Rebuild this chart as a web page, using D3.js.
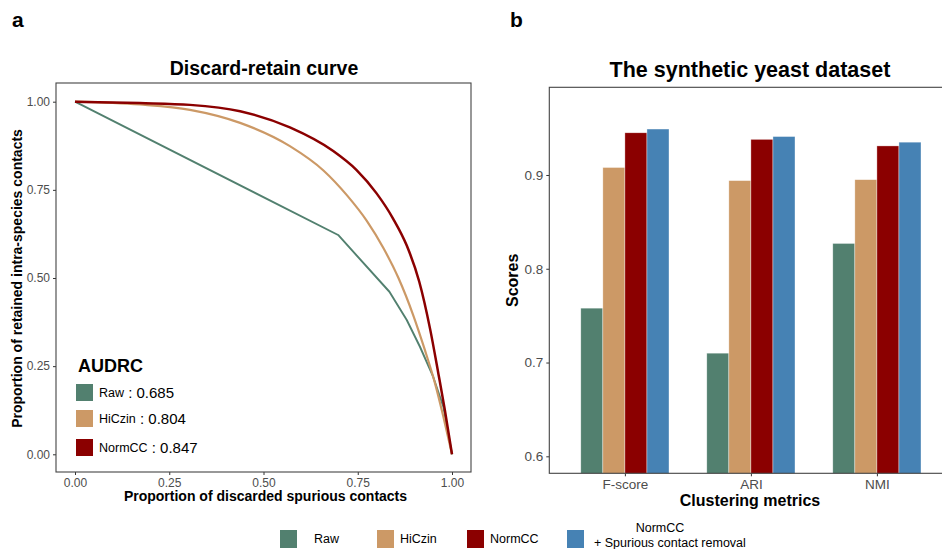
<!DOCTYPE html>
<html>
<head>
<meta charset="utf-8">
<script src="https://cdn.jsdelivr.net/npm/d3@7"></script>
<style>
  body { margin: 0; background: #fff; }
  svg { font-family: "Liberation Sans", Arial, sans-serif; }
</style>
</head>
<body>
<div class="content"></div>
<script>
var size = {width: 942, height: 549};

// discard-retain curves (x: proportion discarded, y: proportion retained)
var rawCurve = [[0,1],[0.698,0.622],[0.834,0.461],[0.88,0.381],[0.915,0.305],[0.95,0.22],[0.977,0.135],[1,0]];
var hiczinCurve = [[0,1],[0.172,0.992],[0.305,0.977],[0.438,0.94],[0.57,0.874],[0.659,0.805],[0.721,0.735],[0.774,0.662],[0.818,0.585],[0.858,0.5],[0.897,0.395],[0.928,0.296],[0.955,0.201],[0.977,0.107],[1,0]];
var normccCurve = [[0,1],[0.172,0.996],[0.305,0.991],[0.438,0.973],[0.57,0.927],[0.685,0.86],[0.747,0.806],[0.8,0.74],[0.844,0.668],[0.88,0.592],[0.913,0.49],[0.942,0.355],[0.964,0.228],[0.981,0.126],[1,0]];
var audrc = [["Raw", "0.685"], ["HiCzin", "0.804"], ["NormCC", "0.847"]];
var curveTicks = [0, 0.25, 0.5, 0.75, 1];

// bar chart
var metrics = ["F-score", "ARI", "NMI"];
var methods = ["Raw", "HiCzin", "NormCC", "NormCC+SCR"];
var fscore = [0.758, 0.908, 0.945, 0.949];
var ari = [0.710, 0.894, 0.938, 0.941];
var nmi = [0.827, 0.895, 0.931, 0.935];
var scoreTicks = [0.6, 0.7, 0.8, 0.9];

var colors = {"Raw": "#52806f", "HiCzin": "#cc9966", "NormCC": "#8b0000", "NormCC+SCR": "#4682b4"};

var chart = d3.select('.content')
    .append('svg')
    .attr('width', size.width)
    .attr('height', size.height);

// panel letters
chart.append('text').attr('x', 12).attr('y', 27).attr('font-size', 21).attr('font-weight', 'bold').text('a');
chart.append('text').attr('x', 510).attr('y', 27).attr('font-size', 21).attr('font-weight', 'bold').text('b');

// ---------- panel a ----------
var boxA = {left: 56, right: 471, top: 83, bottom: 472};
var xA = d3.scaleLinear().domain([0, 1]).range([75, 452]);
var yA = d3.scaleLinear().domain([0, 1]).range([454.3, 101.7]);

chart.append('text')
    .attr('x', (boxA.left + boxA.right) / 2 + 0.5).attr('y', 75)
    .attr('text-anchor', 'middle').attr('font-size', 19.5).attr('font-weight', 'bold')
    .text('Discard-retain curve');

var axA = chart.append('g').attr('transform', 'translate(0,' + boxA.bottom + ')')
    .call(d3.axisBottom(xA).tickValues(curveTicks).tickFormat(d3.format('.2f')).tickSize(3).tickPadding(3));
var ayA = chart.append('g').attr('transform', 'translate(' + boxA.left + ',0)')
    .call(d3.axisLeft(yA).tickValues(curveTicks).tickFormat(d3.format('.2f')).tickSize(3).tickPadding(3));
[axA, ayA].forEach(function(a) {
    a.select('.domain').remove();
    a.selectAll('line').attr('stroke', '#333');
    a.selectAll('text').attr('fill', '#4d4d4d').attr('font-size', 12).attr('font-family', 'Liberation Sans, Arial, sans-serif');
});

chart.append('rect')
    .attr('x', boxA.left).attr('y', boxA.top)
    .attr('width', boxA.right - boxA.left).attr('height', boxA.bottom - boxA.top)
    .attr('fill', 'none').attr('stroke', '#444').attr('stroke-width', 1.1);

var lineLin = d3.line().x(function(d) { return xA(d[0]); }).y(function(d) { return yA(d[1]); });
var lineSmooth = d3.line().curve(d3.curveMonotoneX).x(function(d) { return xA(d[0]); }).y(function(d) { return yA(d[1]); });

chart.append('path').attr('d', lineLin(rawCurve)).attr('fill', 'none').attr('stroke', colors.Raw).attr('stroke-width', 1.9).attr('stroke-linejoin', 'round');
chart.append('path').attr('d', lineSmooth(hiczinCurve)).attr('fill', 'none').attr('stroke', colors.HiCzin).attr('stroke-width', 2.2);
chart.append('path').attr('d', lineSmooth(normccCurve)).attr('fill', 'none').attr('stroke', colors.NormCC).attr('stroke-width', 2.5);

chart.append('text')
    .attr('x', (boxA.left + boxA.right) / 2 + 2).attr('y', 501)
    .attr('text-anchor', 'middle').attr('font-size', 14).attr('font-weight', 'bold')
    .text('Proportion of discarded spurious contacts');
chart.append('text')
    .attr('transform', 'translate(22,' + ((boxA.top + boxA.bottom) / 2 + 1) + ') rotate(-90)')
    .attr('text-anchor', 'middle').attr('font-size', 14).attr('font-weight', 'bold')
    .text('Proportion of retained intra-species contacts');

// AUDRC legend
chart.append('text').attr('x', 78).attr('y', 372).attr('font-size', 18).attr('font-weight', 'bold').text('AUDRC');
var legA = chart.append('g').selectAll('g').data(audrc).enter().append('g')
    .attr('transform', function(d, i) { return 'translate(76,' + [384, 410, 439][i] + ')'; });
legA.append('rect').attr('width', 17).attr('height', 17).attr('fill', function(d) { return colors[d[0]]; });
var legAText = legA.append('text').attr('x', 23).attr('y', 14);
legAText.append('tspan').attr('font-size', 12.5).attr('dy', -1).text(function(d) { return d[0]; });
legAText.append('tspan').attr('font-size', 15).attr('dy', 1).text(function(d) { return ' : ' + d[1]; });

// ---------- panel b ----------
var boxB = {left: 549.3, right: 952.5, top: 87.3, bottom: 473.3};
var xB = d3.scalePoint().domain(metrics).range([boxB.left, boxB.right]).padding(0.6);
var groupW = xB.step() * 0.7;
var xSub = d3.scaleBand().domain(methods).range([-groupW / 2, groupW / 2]);
var yB = d3.scaleLinear().domain([0.5819, 0.9935]).range([boxB.bottom, boxB.top]);

chart.append('text')
    .attr('x', 750).attr('y', 77)
    .attr('text-anchor', 'middle').attr('font-size', 21.5).attr('font-weight', 'bold')
    .text('The synthetic yeast dataset');

chart.append('defs').append('clipPath').attr('id', 'clipB')
    .append('rect').attr('x', boxB.left).attr('y', boxB.top)
    .attr('width', boxB.right - boxB.left).attr('height', boxB.bottom - boxB.top);

var scores = [fscore, ari, nmi];
var groups = chart.append('g').attr('clip-path', 'url(#clipB)')
    .selectAll('g').data(metrics).enter().append('g')
    .attr('transform', function(d) { return 'translate(' + xB(d) + ',0)'; });
groups.selectAll('rect')
    .data(function(d, i) { return methods.map(function(m, j) { return {method: m, value: scores[i][j]}; }); })
    .enter().append('rect')
    .attr('x', function(d) { return xSub(d.method); })
    .attr('width', xSub.bandwidth())
    .attr('y', function(d) { return yB(d.value); })
    .attr('height', function(d) { return boxB.bottom + 5 - yB(d.value); })
    .attr('fill', function(d) { return colors[d.method]; })
    .attr('stroke', '#fff').attr('stroke-opacity', 0.6).attr('stroke-width', 0.6);

var axB = chart.append('g').attr('transform', 'translate(0,' + boxB.bottom + ')')
    .call(d3.axisBottom(xB).tickSize(3).tickPadding(3));
var ayB = chart.append('g').attr('transform', 'translate(' + boxB.left + ',0)')
    .call(d3.axisLeft(yB).tickValues(scoreTicks).tickFormat(d3.format('.1f')).tickSize(3).tickPadding(3));
[axB, ayB].forEach(function(a) {
    a.select('.domain').remove();
    a.selectAll('line').attr('stroke', '#333');
    a.selectAll('text').attr('fill', '#4d4d4d').attr('font-size', 13.5).attr('font-family', 'Liberation Sans, Arial, sans-serif');
});
chart.append('rect')
    .attr('x', boxB.left).attr('y', boxB.top)
    .attr('width', boxB.right - boxB.left).attr('height', boxB.bottom - boxB.top)
    .attr('fill', 'none').attr('stroke', '#444').attr('stroke-width', 1.1);

chart.append('text')
    .attr('x', 750).attr('y', 506)
    .attr('text-anchor', 'middle').attr('font-size', 16).attr('font-weight', 'bold')
    .text('Clustering metrics');
chart.append('text')
    .attr('transform', 'translate(518,' + (boxB.top + boxB.bottom) / 2 + ') rotate(-90)')
    .attr('text-anchor', 'middle').attr('font-size', 16).attr('font-weight', 'bold')
    .text('Scores');

// bottom legend
var legendItems = [
    {key: "Raw", x: 280, lines: ["Raw"]},
    {key: "HiCzin", x: 377, lines: ["HiCzin"]},
    {key: "NormCC", x: 467, lines: ["NormCC"]},
    {key: "NormCC+SCR", x: 567, lines: ["NormCC", "+ Spurious contact removal"]}
];
var legFont = 'Liberation Sans Narrow, Liberation Sans, sans-serif';
var legB = chart.append('g').selectAll('g').data(legendItems).enter().append('g')
    .attr('transform', function(d) { return 'translate(' + d.x + ',530)'; });
legB.append('rect').attr('width', 17).attr('height', 18).attr('fill', function(d) { return colors[d.key]; });
legB.filter(function(d) { return d.lines.length === 1; }).append('text')
    .attr('x', function(d) { return d.key === 'Raw' ? 34 : 23; }).attr('y', 13)
    .attr('font-size', 12.5).attr('font-family', legFont)
    .text(function(d) { return d.lines[0]; });
var multi = legB.filter(function(d) { return d.lines.length > 1; });
multi.append('text').attr('x', 93).attr('y', 2).attr('text-anchor', 'middle')
    .attr('font-size', 12.5).attr('font-family', legFont)
    .text(function(d) { return d.lines[0]; });
multi.append('text').attr('x', 27).attr('y', 17)
    .attr('font-size', 12.5).attr('font-family', legFont)
    .text(function(d) { return d.lines[1]; });
</script>
</body>
</html>
